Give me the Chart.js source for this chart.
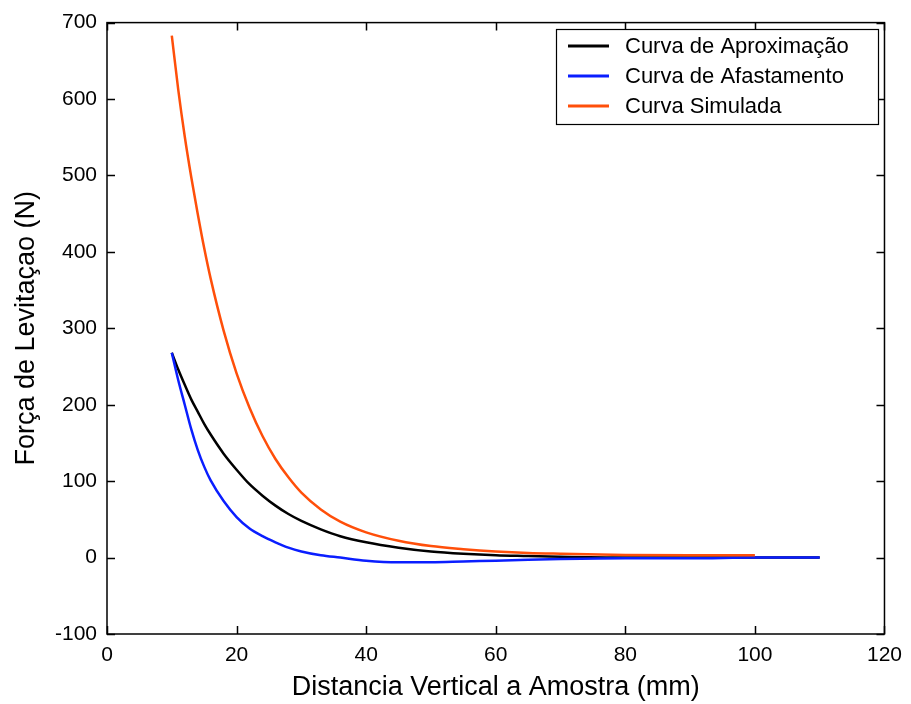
<!DOCTYPE html>
<html>
<head>
<meta charset="utf-8">
<script src="https://cdn.jsdelivr.net/npm/chart.js@4"></script>
<style>
  html, body { margin: 0; padding: 0; background: #fff; }
  #wrap { width: 911px; height: 704px; }
</style>
</head>
<body>
<div id="wrap"><canvas id="myChart"></canvas></div>
<script>
// distances (mm) where the curves were read
const distExp = [10, 11, 12, 13, 14, 15, 16, 18, 20, 22, 24, 26, 28, 30, 33, 36, 40, 45, 50, 55, 60, 65, 70, 80, 90, 100, 110];
const distSim = [10, 11, 12, 13, 14, 15, 16, 18, 20, 22, 24, 26, 28, 30, 33, 36, 40, 45, 50, 55, 60, 65, 70, 80, 90, 100];

// levitation force (N)
const forceAprox = [268, 246, 226, 207, 191, 175, 161, 136, 115, 96, 81, 68, 57, 48, 37, 28, 20, 13, 8, 5, 3, 2, 1, 0, 0, 0, 0];
const forceAfast = [268, 232, 200, 168, 141, 119, 101, 74, 53, 38, 28, 20, 13, 8, 3, 0, -4, -6, -6, -5, -4, -3, -2, -1, -1, 0, 0];
const forceSim = [683, 612, 551, 498, 450, 405, 365, 297, 241, 196, 159, 129, 105, 85, 63, 47, 33, 22, 15, 11, 8, 6, 5, 3.5, 3, 3];

const xTicks = [0, 20, 40, 60, 80, 100, 120];
const yTicks = [-100, 0, 100, 200, 300, 400, 500, 600, 700];

function pts(xs, ys) {
    return xs.map((x, i) => ({x: x, y: ys[i]}));
}

const fontName = "'Liberation Sans', Arial, sans-serif";

// box round the axes, inward ticks on all four sides, legend box
const framePlugin = {
    id: 'frame',
    afterDraw(chart) {
        const ctx = chart.ctx;
        const {left, right, top, bottom} = chart.chartArea;
        const xs = chart.scales.x, ys = chart.scales.y;
        ctx.save();
        ctx.strokeStyle = '#000';
        ctx.lineWidth = 1.5;
        ctx.strokeRect(left, top, right - left, bottom - top);
        ctx.beginPath();
        xTicks.forEach(v => {
            const px = Math.round(xs.getPixelForValue(v)) + 0.5;
            ctx.moveTo(px, bottom); ctx.lineTo(px, bottom - 8);
            ctx.moveTo(px, top); ctx.lineTo(px, top + 8);
        });
        yTicks.forEach(v => {
            const py = Math.round(ys.getPixelForValue(v)) + 0.5;
            ctx.moveTo(left, py); ctx.lineTo(left + 8, py);
            ctx.moveTo(right, py); ctx.lineTo(right - 8, py);
        });
        ctx.stroke();

        // legend
        const lx = 556, ly = 29, lw = 322, lh = 95;
        ctx.fillStyle = '#fff';
        ctx.fillRect(lx, ly, lw, lh);
        ctx.lineWidth = 1.2;
        ctx.strokeRect(lx + 0.5, ly + 0.5, lw, lh);
        ctx.font = '22px ' + fontName;
        ctx.textBaseline = 'middle';
        chart.data.datasets.forEach((ds, i) => {
            const yy = ly + 17 + i * 30;
            ctx.strokeStyle = ds.borderColor;
            ctx.lineWidth = 3;
            ctx.beginPath();
            ctx.moveTo(lx + 12, yy); ctx.lineTo(lx + 53, yy);
            ctx.stroke();
            ctx.fillStyle = '#000';
            ctx.fillText(ds.label, lx + 69, yy + 1);
        });
        ctx.restore();
    }
};

new Chart("myChart", {
    type: "line",
    data: {
        datasets: [{
            label: "Curva de Aproximação",
            data: pts(distExp, forceAprox),
            borderColor: "#000000",
            order: 3
        }, {
            label: "Curva de Afastamento",
            data: pts(distExp, forceAfast),
            borderColor: "#0a1eff",
            order: 2
        }, {
            label: "Curva Simulada",
            data: pts(distSim, forceSim),
            borderColor: "#ff4f0a",
            order: 1
        }]
    },
    options: {
        responsive: true,
        maintainAspectRatio: false,
        animation: false,
        elements: {
            line: { borderWidth: 2.5, cubicInterpolationMode: 'monotone', fill: false },
            point: { radius: 0 }
        },
        layout: { padding: { top: 17, right: 23, left: 0, bottom: 0 } },
        plugins: {
            legend: { display: false },
            tooltip: { enabled: false }
        },
        scales: {
            x: {
                type: 'linear',
                min: 0, max: 120,
                afterBuildTicks: (s) => { s.ticks = xTicks.map(v => ({value: v})); },
                afterFit: (s) => { s.height = 70; },
                grid: { display: false, drawTicks: false },
                border: { display: false },
                ticks: { color: '#000', padding: 9, font: { family: fontName, size: 21 } },
                title: {
                    display: true,
                    text: "Distancia Vertical a Amostra (mm)",
                    color: '#000',
                    padding: { top: 0, bottom: 0 },
                    font: { family: fontName, size: 27 }
                }
            },
            y: {
                min: -100, max: 700,
                afterBuildTicks: (s) => { s.ticks = yTicks.map(v => ({value: v})); },
                afterFit: (s) => { s.width = 107; },
                grid: { display: false, drawTicks: false },
                border: { display: false },
                ticks: { color: '#000', padding: 10, font: { family: fontName, size: 21 } },
                title: {
                    display: true,
                    text: "Força de Levitaçao (N)",
                    color: '#000',
                    padding: { top: 10, bottom: 0 },
                    font: { family: fontName, size: 27 }
                }
            }
        }
    },
    plugins: [framePlugin]
});
</script>
</body>
</html>
